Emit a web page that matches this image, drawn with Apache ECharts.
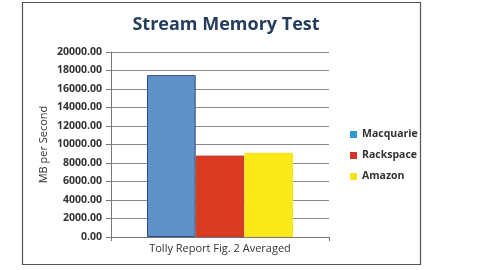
<!DOCTYPE html>
<html><head><meta charset="utf-8">
<script src="https://cdn.jsdelivr.net/npm/echarts@6/dist/echarts.min.js"></script>
<style>html,body{margin:0;padding:0;background:#fff}#c{width:480px;height:270px}</style>
</head><body><div id="c"></div>
<script>
const categories = ['Tolly Report Fig. 2 Averaged'];
const seriesNames = ['Macquarie', 'Rackspace', 'Amazon'];
const macquarie = [17500];
const rackspace = [8800];
const amazon = [9100];
const seriesValues = [macquarie, rackspace, amazon];
const barColors = ['#5f91c8', '#d93a22', '#fce91a'];
const legendColors = ['#2f9ad6', '#d33427', '#f7e31c'];
const borderColors = ['#2d4e78', '#c0392b', '#f5e21a'];

const chart = echarts.init(document.getElementById('c'));
chart.setOption({
  animation: false,
  backgroundColor: '#fff',
  graphic: [{type:'rect', shape:{x:22.5,y:2.5,width:398,height:262}, style:{fill:'none', stroke:'#555', lineWidth:1.2}, z:-1}],
  title: {text:'Stream Memory Test', left:221, top:11, textAlign:'center',
    textStyle:{fontFamily:'Open Sans', fontSize:18, fontWeight:'bold', color:'#263e5e'}},
  legend: {orient:'vertical', left:345, top:124, itemWidth:7, itemHeight:7, itemGap:10, icon:'rect',
    textStyle:{fontFamily:'Open Sans', fontSize:10.5, fontWeight:'bold', color:'#333'},
    data: seriesNames.map((n,i)=>({name:n, itemStyle:{color:legendColors[i], borderWidth:0}}))},
  grid: {left:111, right:151, top:52, bottom:33},
  xAxis: {type:'category', data:categories,
    axisLine:{lineStyle:{color:'#777'}}, axisTick:{show:true, alignWithLabel:false, length:4, lineStyle:{color:'#777'}},
    axisLabel:{fontFamily:'Open Sans', fontSize:11, color:'#333', margin:6}},
  yAxis: {type:'value', min:0, max:20000, interval:2000, name:'MB per Second', nameLocation:'middle', nameGap:62,
    nameTextStyle:{fontFamily:'Open Sans', fontSize:11, color:'#333'},
    axisLine:{show:true, lineStyle:{color:'#777'}}, axisTick:{show:true, length:5, lineStyle:{color:'#777'}},
    axisLabel:{fontFamily:'Open Sans', fontSize:10.5, fontWeight:'bold', color:'#333', margin:9, formatter:v=>v.toFixed(2)},
    splitLine:{lineStyle:{color:'#8a8a8a'}}},
  series: seriesNames.map((n,i)=>({name:n, type:'bar', data:seriesValues[i], barGap:'0%', barCategoryGap:'33%',
    itemStyle:{color:barColors[i], borderColor:borderColors[i], borderWidth:1}}))
});
</script></body></html>
